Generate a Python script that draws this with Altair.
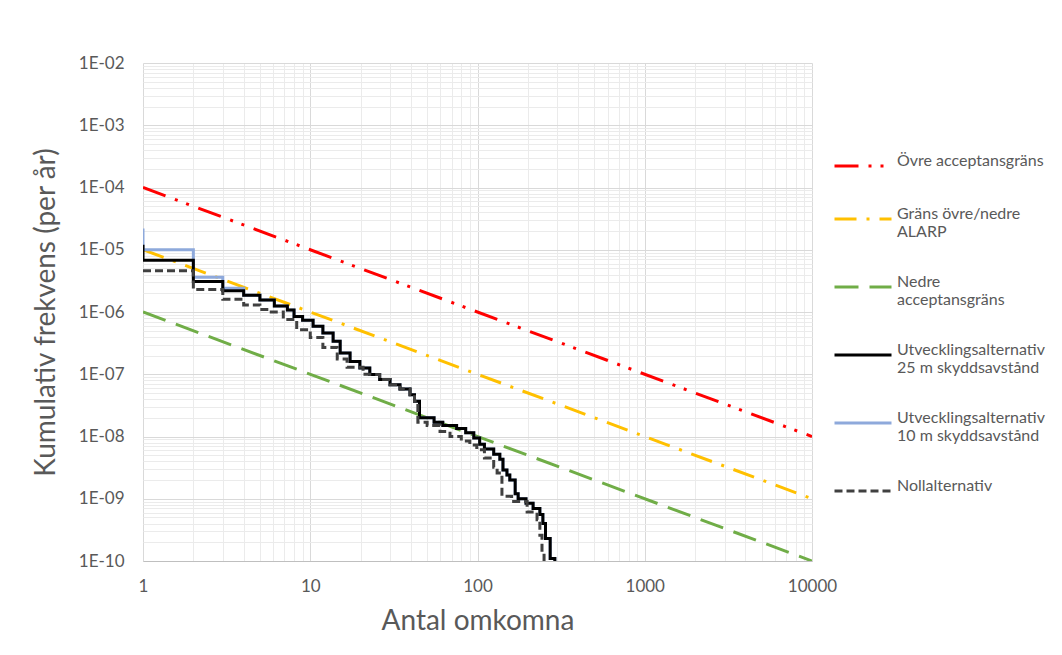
import altair as alt
import pandas as pd

# ---------------- data ----------------
S_UPPER = "Övre acceptansgräns"
S_ALARP = "Gräns övre/nedre|ALARP"
S_LOWER = "Nedre|acceptansgräns"
S_25 = "Utvecklingsalternativ|25 m skyddsavstånd"
S_10 = "Utvecklingsalternativ|10 m skyddsavstånd"
S_NOLL = "Nollalternativ"

series_order = [S_UPPER, S_ALARP, S_LOWER, S_25, S_10, S_NOLL]
series_colors = ["#FF0000", "#FFC000", "#70AD47", "#000000", "#8EA9DB", "#404040"]
series_dashes = [[24, 10, 3, 9, 3, 10], [22, 10, 3, 10], [24, 11], [1, 0], [1, 0], [8, 4]]
series_widths = [3, 3, 3, 1.8, 4.6, 3]

crit_x = [1, 10000]
upper_y = [1e-4, 1e-8]
alarp_y = [1e-5, 1e-9]
lower_y = [1e-6, 1e-10]

alt10_x = [1, 1, 2, 3, 4, 5, 6.1, 7.3, 8, 9, 10.4, 11.9, 13.7, 15.1, 17.3, 19.8,
           22.7, 26, 30, 34.4, 39.5, 42, 45, 55, 62, 75, 85, 95, 103, 110, 125,
           136, 142, 150, 156, 168, 175, 195, 215, 236, 246, 255, 272, 290]
alt10_y = [2.2e-5, 1.0e-5, 3.6e-6, 2.4e-6, 1.85e-6, 1.56e-6, 1.25e-6, 1.08e-6,
           8.5e-7, 7.4e-7, 5.9e-7, 4.6e-7, 3.4e-7, 2.2e-7, 1.6e-7, 1.26e-7,
           9.9e-8, 8.2e-8, 6.8e-8, 5.8e-8, 4.7e-8, 3.7e-8, 2.0e-8, 1.7e-8, 1.5e-8,
           1.35e-8, 1.15e-8, 9.5e-9, 7.5e-9, 6.3e-9, 5.2e-9, 4.3e-9, 2.9e-9, 2.4e-9,
           2.0e-9, 1.2e-9, 1.0e-9, 8.5e-10, 7.0e-10, 5.6e-10, 4.0e-10, 2.3e-10,
           1.1e-10, 1.0e-10]

alt25_x = [1, 1, 2, 3] + alt10_x[4:]
alt25_y = [1.2e-5, 6.8e-6, 3.1e-6, 2.2e-6] + alt10_y[4:]

noll_x = [1, 2, 3, 4, 5, 5.7, 6.9, 8.3, 10, 11.9, 14.5, 16.6, 20.7, 22.7, 26, 30,
          34.4, 39.5, 42, 44, 50, 59.7, 68.5, 80, 90, 99, 110, 125, 131, 140, 160,
          198, 227, 236, 243, 250]
noll_y = [4.6e-6, 2.3e-6, 1.6e-6, 1.3e-6, 1.1e-6, 1.0e-6, 7.6e-7, 5.2e-7, 3.9e-7,
          2.7e-7, 1.75e-7, 1.3e-7, 1.0e-7, 9.9e-8, 8.2e-8, 6.8e-8, 5.8e-8, 4.7e-8,
          3.7e-8, 1.7e-8, 1.5e-8, 1.2e-8, 1.0e-8, 8.5e-9, 7.3e-9, 6.1e-9, 4.5e-9,
          3.2e-9, 2.6e-9, 1.1e-9, 9.0e-10, 6.1e-10, 4.6e-10, 2.6e-10, 1.35e-10, 1.0e-10]

x_ticks = [k * 10 ** d for d in range(0, 4) for k in range(1, 10)] + [10000]
y_ticks = [k * 10.0 ** d for d in range(-10, -2) for k in range(1, 10)] + [1e-2]

# ---------------- tables ----------------
def table(name, xs, ys):
    return pd.DataFrame({"series": name, "x": xs, "y": ys, "idx": range(len(xs))})

crit_df = pd.concat([table(S_UPPER, crit_x, upper_y),
                     table(S_ALARP, crit_x, alarp_y),
                     table(S_LOWER, crit_x, lower_y)])
alt10_df = table(S_10, alt10_x, alt10_y)
alt25_df = table(S_25, alt25_x, alt25_y)
noll_df = table(S_NOLL, noll_x, noll_y)

FONT = "Lato"
GRAY = "#595959"
major_test = "abs(log(datum.value)/LN10 - round(log(datum.value)/LN10)) < 0.001"

x_axis = alt.Axis(
    values=x_ticks, labelExpr=f"{major_test} ? format(datum.value, 'd') : ''",
    title="Antal omkomna", titleFont=FONT, titleFontSize=28, titleFontWeight="normal",
    titleColor=GRAY, titlePadding=13, labelFont=FONT, labelFontSize=17, labelColor=GRAY,
    labelPadding=17, labelOverlap=False, labelFlush=False, ticks=False, domainColor="#BFBFBF",
    gridColor={"condition": {"test": major_test, "value": "#D9D9D9"}, "value": "#EBEBEB"},
)
y_axis = alt.Axis(
    values=y_ticks,
    labelExpr=(f"{major_test} ? '1E-' + (round(-log(datum.value)/LN10) < 10 ? '0' : '') "
               "+ round(-log(datum.value)/LN10) : ''"),
    title="Kumulativ frekvens (per år)", titleFont=FONT, titleFontSize=28,
    titleFontWeight="normal", titleColor=GRAY, titlePadding=18, labelFont=FONT,
    labelFontSize=17, labelColor=GRAY, labelPadding=19, labelOverlap=False,
    labelFlush=False, ticks=False, domain=False,
    gridColor={"condition": {"test": major_test, "value": "#D9D9D9"}, "value": "#EBEBEB"},
)

x_enc = alt.X("x:Q", scale=alt.Scale(type="log", domain=[1, 10000]), axis=x_axis)
y_enc = alt.Y("y:Q", scale=alt.Scale(type="log", domain=[1e-10, 1e-2]), axis=y_axis)

legend = alt.Legend(
    title=None, orient="none", legendX=690, legendY=73, symbolType="stroke",
    symbolSize=3249, labelExpr="split(datum.label, '|')", labelFont=FONT,
    labelFontSize=16, labelColor=GRAY, labelLimit=400, rowPadding=17,
    labelBaseline="alphabetic", labelOffset=4, padding=0,
)
color_enc = alt.Color("series:N", scale=alt.Scale(domain=series_order, range=series_colors),
                      legend=legend)
dash_enc = alt.StrokeDash("series:N", scale=alt.Scale(domain=series_order, range=series_dashes),
                          legend=legend)
width_enc = alt.StrokeWidth("series:N", scale=alt.Scale(domain=series_order, range=series_widths),
                            legend=legend)


def line_layer(df, **mark_kw):
    return alt.Chart(df).mark_line(clip=True, strokeCap="butt", **mark_kw).encode(
        x=x_enc, y=y_enc, color=color_enc, strokeDash=dash_enc, strokeWidth=width_enc,
        order=alt.Order("idx:Q"),
    )


crit = line_layer(crit_df)
l10 = line_layer(alt10_df, interpolate="step-after")
l25 = line_layer(alt25_df, interpolate="step-after")
l0 = line_layer(noll_df, interpolate="step-after")

chart = alt.layer(crit, l10, l25, l0).properties(
    width=669, height=498,
    autosize=alt.AutoSizeParams(type="none"),
    padding={"left": 135, "top": 55, "right": 238, "bottom": 90},
).configure_view(strokeWidth=0)

chart.save("out.html", embed_options={"renderer": "svg", "actions": False})
